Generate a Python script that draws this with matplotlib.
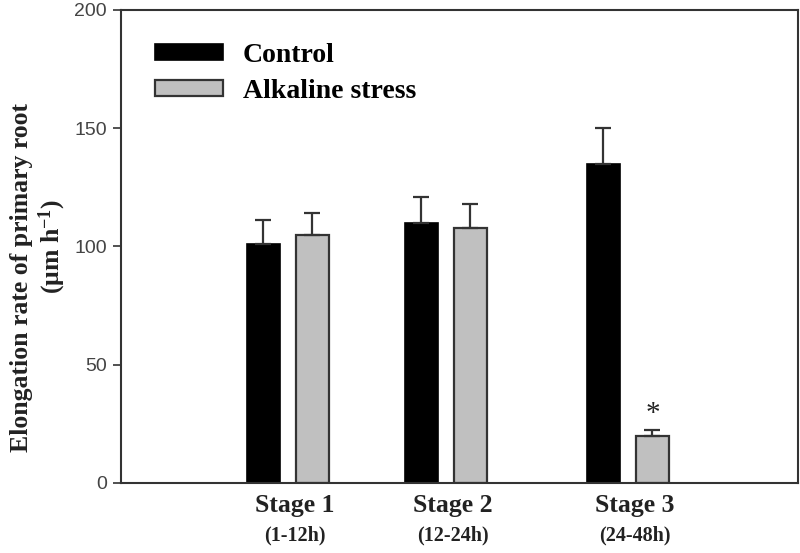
import numpy as np
import matplotlib.pyplot as plt

plt.rcParams["mathtext.fontset"] = "custom"
plt.rcParams["mathtext.rm"] = "Liberation Serif:bold"
plt.rcParams["mathtext.it"] = "Liberation Serif:bold"
plt.rcParams["mathtext.bf"] = "Liberation Serif:bold"

# Datos
etapas = ["Stage 1", "Stage 2", "Stage 3"]
intervalos = ["(1-12h)", "(12-24h)", "(24-48h)"]
control = [101, 110, 135]
control_err = [10, 11, 15]
alcalino = [105, 108, 20]
alcalino_err = [9, 10, 2.5]
significativo = [False, False, True]

# Posiciones de los grupos (en coordenadas de datos)
centros = np.array([167, 325, 507])
ancho = 33
desp = 24.5

fig = plt.figure(figsize=(8, 5.53), dpi=100)
ax = fig.add_axes([0.151, 0.1266, 0.8465, 0.8554])

err_kw = dict(ecolor="#333333", elinewidth=1.6, capsize=6, capthick=1.6)
ax.bar(centros - desp, control, ancho, color="black", edgecolor="black",
       linewidth=1.2, label="Control")
ax.errorbar(centros - desp, control, yerr=[np.zeros(3), control_err],
            fmt="none", **err_kw)
ax.bar(centros + desp, alcalino, ancho, color="#c0c0c0", edgecolor="#333333",
       linewidth=1.6, label="Alkaline stress")
ax.errorbar(centros + desp, alcalino, yerr=[np.zeros(3), alcalino_err],
            fmt="none", **err_kw)

for x, v, e, s in zip(centros + desp, alcalino, alcalino_err, significativo):
    if s:
        ax.text(x, v + e + 1, "*", ha="center", va="bottom", fontsize=21,
                family="Liberation Serif", color="#222222")

ax.set_xlim(0, 677)
ax.set_ylim(0, 200)
ax.set_yticks([0, 50, 100, 150, 200])
ax.tick_params(axis="y", direction="out", length=6, width=1.2, pad=4,
               labelsize=14, labelcolor="#444444", colors="#333333")
for lab in ax.get_yticklabels():
    lab.set_family("Liberation Sans")
ax.set_xticks([])
for sp in ax.spines.values():
    sp.set_linewidth(1.5)
    sp.set_color("#333333")

# Etiquetas de las etapas
for x, et, iv in zip(centros, etapas, intervalos):
    ax.text(x + 7, -9.5, et, ha="center", va="center", fontsize=18.5,
            family="Liberation Serif", weight="bold", color="#222222")
    ax.text(x + 7, -22, iv, ha="center", va="center", fontsize=14.5,
            family="Liberation Serif", weight="bold", color="#222222")

# Título del eje y en dos líneas
fig.text(22 / 800, 1 - 277 / 553, "Elongation rate of primary root",
         rotation=90, ha="center", va="center", fontsize=18.5,
         family="Liberation Serif", weight="bold", color="#222222")
fig.text(52 / 800, 1 - 247 / 553, "(μm h$^{-1}$)",
         rotation=90, ha="center", va="center", fontsize=18.5,
         family="Liberation Serif", weight="bold", color="#222222")

ax.legend(loc="upper left", bbox_to_anchor=(0.05, 0.93), frameon=False,
          borderpad=0, borderaxespad=0,
          handlelength=2.45, handleheight=0.5, handletextpad=0.72,
          labelspacing=0.39,
          prop={"family": "Liberation Serif", "weight": "bold", "size": 20})

fig.savefig("out.png", dpi=100)
